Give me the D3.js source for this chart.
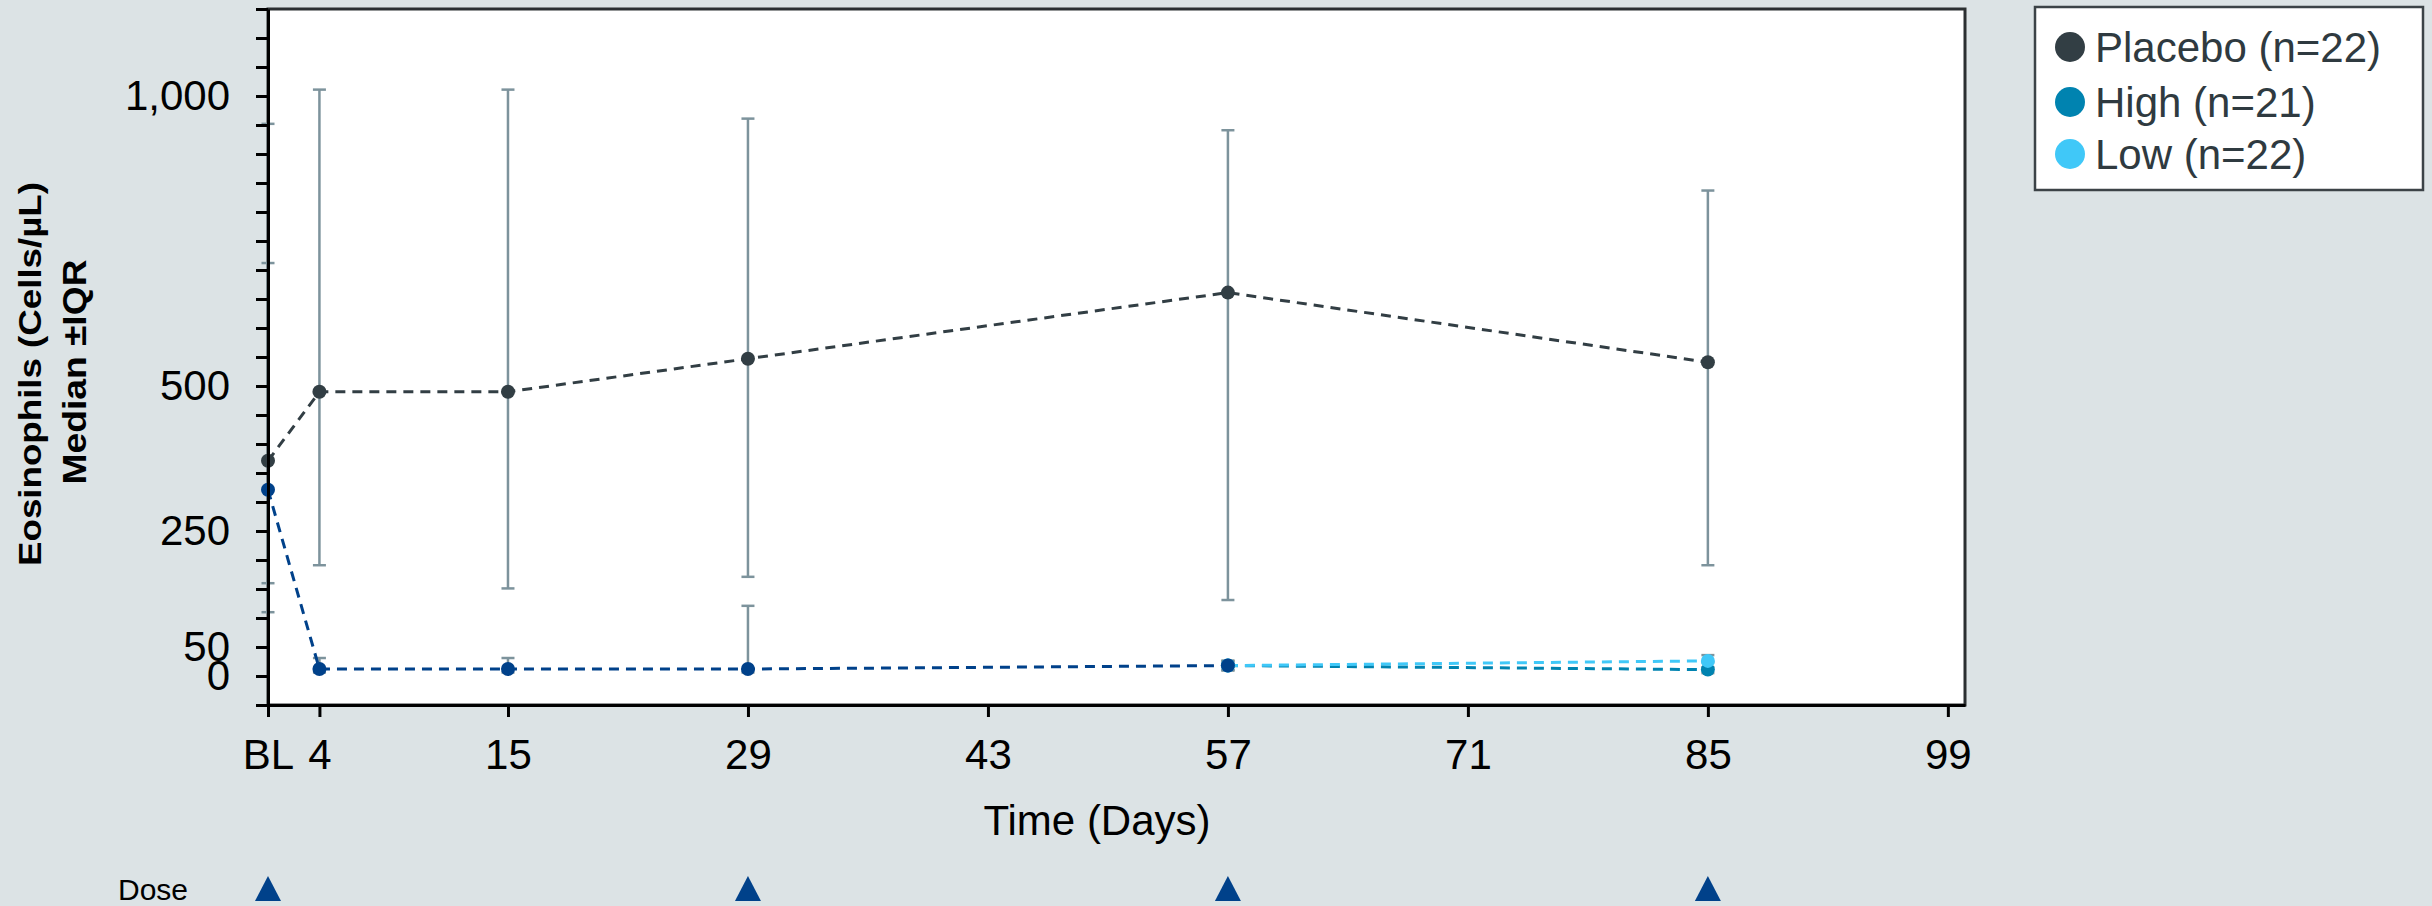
<!DOCTYPE html>
<meta charset="utf-8">
<style>
body { margin: 0; background: #dce3e5; }
text { font-family: "Liberation Sans", Arial, sans-serif; }
.axis path, .axis line { stroke: #000; stroke-width: 3px; }
.axis text { font-size: 42px; fill: #000; }
.line { fill: none; stroke-width: 3px; stroke-dasharray: 10,7; }
.err { stroke: #7d939c; stroke-width: 2.5px; fill: none; }
</style>
<svg width="2432" height="906"></svg>
<script src="https://cdn.jsdelivr.net/npm/d3@7"></script>
<script>
// x ticks (BL = day 1)
var xTicks = [1, 4, 15, 29, 43, 57, 71, 85, 99];
var xTickLabels = ["BL", "4", "15", "29", "43", "57", "71", "85", "99"];
var yLabelled = [0, 50, 250, 500, 1000];
var doseDays = [1, 29, 57, 85];

// placebo, median and IQR
var placeboDays = [1, 4, 15, 29, 57, 85];
var placeboMedian = [371, 490, 490, 547, 661, 541];
var placeboQ1 = [160, 191, 151, 171, 131, 191];
var placeboQ3 = [952, 1011, 1011, 961, 941, 837];

// dark blue line (no legend entry) up to day 57
var pooledDays = [1, 4, 15, 29, 57];
var pooledMedian = [321, 12, 12, 12, 18];
var pooledQ1 = [110, 6, 6, 6, 10];
var pooledQ3 = [712, 31, 31, 121, 26];

var highDays = [57, 85];
var highMedian = [18, 11];
var highQ1 = [10, 5];
var highQ3 = [26, 24];

var lowDays = [57, 85];
var lowMedian = [18, 26];
var lowQ1 = [10, 15];
var lowQ3 = [26, 36];

var legendNames = ["Placebo (n=22)", "High (n=21)", "Low (n=22)"];
var legendColors = ["#323e44", "#0083b0", "#40c8f8"];

var svg = d3.select("svg");

var x = d3.scaleLinear().domain([1, 100]).range([268, 1965]);
var y = d3.scaleLinear().domain([-50, 1150]).range([705, 9]);

// plot area
svg.append("rect")
    .attr("x", x(1)).attr("y", y(1150))
    .attr("width", x(100) - x(1)).attr("height", y(-50) - y(1150))
    .attr("fill", "#fff")
    .attr("stroke", "#2b2f31")
    .attr("stroke-width", 3);

function zip(days, med, q1, q3) {
  return days.map(function(d, i) { return {day: d, v: med[i], lo: q1[i], hi: q3[i]}; });
}

var series = [
  {data: zip(highDays, highMedian, highQ1, highQ3), color: "#0083b0"},
  {data: zip(lowDays, lowMedian, lowQ1, lowQ3), color: "#40c8f8"},
  {data: zip(pooledDays, pooledMedian, pooledQ1, pooledQ3), color: "#00418a"},
  {data: zip(placeboDays, placeboMedian, placeboQ1, placeboQ3), color: "#323e44"}
];

var g = svg.append("g");

// error bars
series.forEach(function(s) {
  s.data.forEach(function(d) {
    g.append("line").attr("class", "err")
      .attr("x1", x(d.day)).attr("x2", x(d.day))
      .attr("y1", y(d.lo)).attr("y2", y(d.hi));
    [d.lo, d.hi].forEach(function(v) {
      g.append("line").attr("class", "err")
        .attr("x1", x(d.day) - 6.5).attr("x2", x(d.day) + 6.5)
        .attr("y1", y(v)).attr("y2", y(v));
    });
  });
});

var line = d3.line()
    .x(function(d) { return x(d.day); })
    .y(function(d) { return y(d.v); });

series.forEach(function(s) {
  g.append("path")
    .datum(s.data)
    .attr("class", "line")
    .attr("stroke", s.color)
    .attr("d", line);
});

series.forEach(function(s) {
  g.selectAll(null)
    .data(s.data)
    .enter().append("circle")
    .attr("cx", function(d) { return x(d.day); })
    .attr("cy", function(d) { return y(d.v); })
    .attr("r", 7)
    .attr("fill", s.color);
});

// axes
svg.append("g")
    .attr("class", "axis")
    .attr("transform", "translate(0," + y(-50) + ")")
    .call(d3.axisBottom(x)
      .tickValues(xTicks)
      .tickFormat(function(d, i) { return xTickLabels[i]; })
      .tickSize(12).tickSizeOuter(0).tickPadding(22));

svg.append("g")
    .attr("class", "axis")
    .attr("transform", "translate(" + x(1) + ",0)")
    .call(d3.axisLeft(y)
      .tickValues(d3.range(-50, 1151, 50))
      .tickFormat(function(d) { return yLabelled.indexOf(d) >= 0 ? d3.format(",")(d) : ""; })
      .tickSize(12).tickSizeOuter(0).tickPadding(26));

// axis titles
svg.append("text")
    .attr("x", 1097).attr("y", 835)
    .attr("text-anchor", "middle")
    .style("font-size", "42px")
    .text("Time (Days)");

var yt = svg.append("g").attr("transform", "rotate(-90)");
yt.append("text")
    .attr("x", -374).attr("y", 41)
    .attr("text-anchor", "middle")
    .attr("textLength", 384).attr("lengthAdjust", "spacingAndGlyphs")
    .style("font-size", "31px").style("font-weight", "bold")
    .text("Eosinophils (Cells/µL)");
yt.append("text")
    .attr("x", -372).attr("y", 86)
    .attr("text-anchor", "middle")
    .attr("textLength", 225).attr("lengthAdjust", "spacingAndGlyphs")
    .style("font-size", "33px").style("font-weight", "bold")
    .text("Median ±IQR");

// dose markers
svg.append("text")
    .attr("x", 118).attr("y", 900)
    .style("font-size", "30px")
    .text("Dose");

svg.selectAll(".dose")
    .data(doseDays)
    .enter().append("path")
    .attr("class", "dose")
    .attr("fill", "#00418a")
    .attr("d", function(d) {
      var cx = x(d);
      return "M" + (cx - 13) + ",901L" + cx + ",876L" + (cx + 13) + ",901Z";
    });

// legend
var legend = svg.append("g");
legend.append("rect")
    .attr("x", 2035).attr("y", 7)
    .attr("width", 388).attr("height", 183)
    .attr("fill", "#fff")
    .attr("stroke", "#3c4347")
    .attr("stroke-width", 2.5);

var rows = legend.selectAll(".row")
    .data(legendNames)
    .enter().append("g")
    .attr("transform", function(d, i) { return "translate(2070," + [47, 102, 154][i] + ")"; });
rows.append("circle")
    .attr("r", 15)
    .attr("fill", function(d, i) { return legendColors[i]; });
rows.append("text")
    .attr("x", 25).attr("dy", "0.35em")
    .style("font-size", "42px")
    .attr("fill", "#2f3a40")
    .text(function(d) { return d; });
</script>
